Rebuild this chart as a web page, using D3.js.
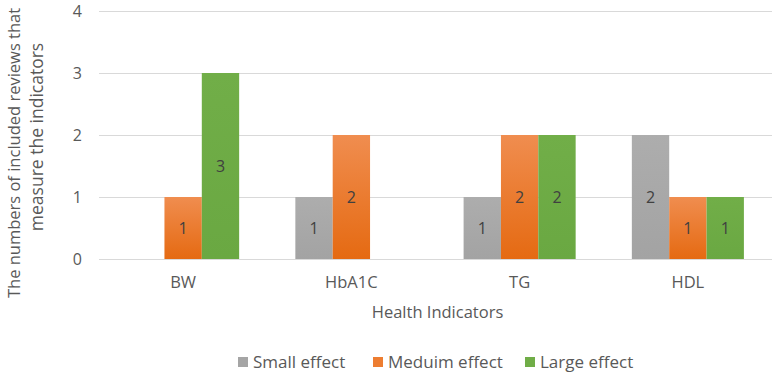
<!DOCTYPE html>
<html lang="en">
<head>
<meta charset="utf-8">
<title>Health indicators</title>
<script src="https://cdn.jsdelivr.net/npm/d3@7"></script>
<style>
body { margin: 0; background: #fff; }
svg text { font-family: "Open Sans", "Noto Sans", sans-serif; fill: #595959; }
.tick line { stroke: #d9d9d9; }
.domain { display: none; }
</style>
</head>
<body>
<script>
// data
var indicators = ["BW", "HbA1C", "TG", "HDL"];
var effects = ["Small effect", "Meduim effect", "Large effect"];
var smallEffect = [0, 1, 1, 2];
var mediumEffect = [1, 2, 2, 1];
var largeEffect = [3, 0, 2, 1];
var yTicks = [0, 1, 2, 3, 4];

var seriesValues = [smallEffect, mediumEffect, largeEffect];
var colors = ["#a5a5a5", "#ed7d31", "#70ad47"];
var topColors = ["#adadad", "#f08d4f", "#71ae48"];
var bottomColors = ["#a3a3a3", "#e56a12", "#6aa842"];

var width = 780, height = 387;
var margin = {top: 11, right: 8, bottom: 128, left: 99};
var w = width - margin.left - margin.right,
    h = height - margin.top - margin.bottom;

var svg = d3.select("body").append("svg")
  .attr("width", width)
  .attr("height", height);

var defs = svg.append("defs");
colors.forEach(function(c, i) {
  var g = defs.append("linearGradient")
    .attr("id", "grad" + i)
    .attr("x1", 0).attr("y1", 0).attr("x2", 0).attr("y2", 1);
  g.append("stop").attr("offset", "0%").attr("stop-color", topColors[i]);
  g.append("stop").attr("offset", "100%").attr("stop-color", bottomColors[i]);
});

var chart = svg.append("g")
  .attr("transform", "translate(" + margin.left + "," + margin.top + ")");

var x0 = d3.scaleBand().domain(indicators).range([0, w]).paddingInner(0).paddingOuter(0);
var x1 = d3.scaleBand().domain(d3.range(effects.length))
  .range([x0.bandwidth() * 0.167, x0.bandwidth() * 0.833]);
var y = d3.scaleLinear().domain([0, 4]).range([h, 0]);

// gridlines
chart.append("g")
  .call(d3.axisLeft(y).tickValues(yTicks).tickSize(-w).tickFormat(""))
  .selectAll(".tick line").attr("stroke", "#d9d9d9");

// y tick labels
chart.selectAll(".ylab")
  .data(yTicks)
  .enter().append("text")
  .attr("x", -17)
  .attr("y", function(d) { return y(d); })
  .attr("dy", "0.35em")
  .attr("text-anchor", "end")
  .style("font-size", "16px")
  .text(function(d) { return d; });

// bars
var rows = [];
indicators.forEach(function(cat, ci) {
  seriesValues.forEach(function(vals, si) {
    rows.push({cat: cat, s: si, v: vals[ci]});
  });
});
var barData = rows.filter(function(d) { return d.v > 0; });

chart.selectAll(".bar")
  .data(barData)
  .enter().append("rect")
  .attr("class", "bar")
  .attr("x", function(d) { return x0(d.cat) + x1(d.s); })
  .attr("y", function(d) { return y(d.v); })
  .attr("width", x1.bandwidth())
  .attr("height", function(d) { return y(0) - y(d.v); })
  .attr("fill", function(d) { return "url(#grad" + d.s + ")"; });

chart.selectAll(".vlab")
  .data(barData)
  .enter().append("text")
  .attr("x", function(d) { return x0(d.cat) + x1(d.s) + x1.bandwidth() / 2; })
  .attr("y", function(d) { return (y(d.v) + y(0)) / 2; })
  .attr("dy", "0.35em")
  .attr("text-anchor", "middle")
  .style("font-size", "16px")
  .style("fill", "#404040")
  .text(function(d) { return d.v; });

// category labels
chart.selectAll(".xlab")
  .data(indicators)
  .enter().append("text")
  .attr("x", function(d) { return x0(d) + x0.bandwidth() / 2; })
  .attr("y", h + 29)
  .attr("text-anchor", "middle")
  .style("font-size", "16.5px")
  .text(function(d) { return d; });

// axis titles
chart.append("text")
  .attr("x", w / 2 + 2)
  .attr("y", h + 59)
  .attr("text-anchor", "middle")
  .style("font-size", "16.5px")
  .text("Health Indicators");

svg.append("text")
  .attr("transform", "translate(20,153) rotate(-90)")
  .attr("text-anchor", "middle")
  .style("font-size", "16.5px")
  .text("The numbers of included reviews that");
svg.append("text")
  .attr("transform", "translate(43,137) rotate(-90)")
  .attr("text-anchor", "middle")
  .style("font-size", "17.5px")
  .text("measure the indicators");

// legend
var legendX = [238, 373, 525];
var legend = svg.selectAll(".legend")
  .data(effects)
  .enter().append("g")
  .attr("transform", function(d, i) { return "translate(" + legendX[i] + ",362)"; });
legend.append("rect")
  .attr("x", 0).attr("y", -5)
  .attr("width", 10).attr("height", 10)
  .attr("fill", function(d, i) { return colors[i]; });
legend.append("text")
  .attr("x", 15)
  .attr("y", 0)
  .attr("dy", "0.35em")
  .style("font-size", "17px")
  .text(function(d) { return d; });
</script>
</body>
</html>
